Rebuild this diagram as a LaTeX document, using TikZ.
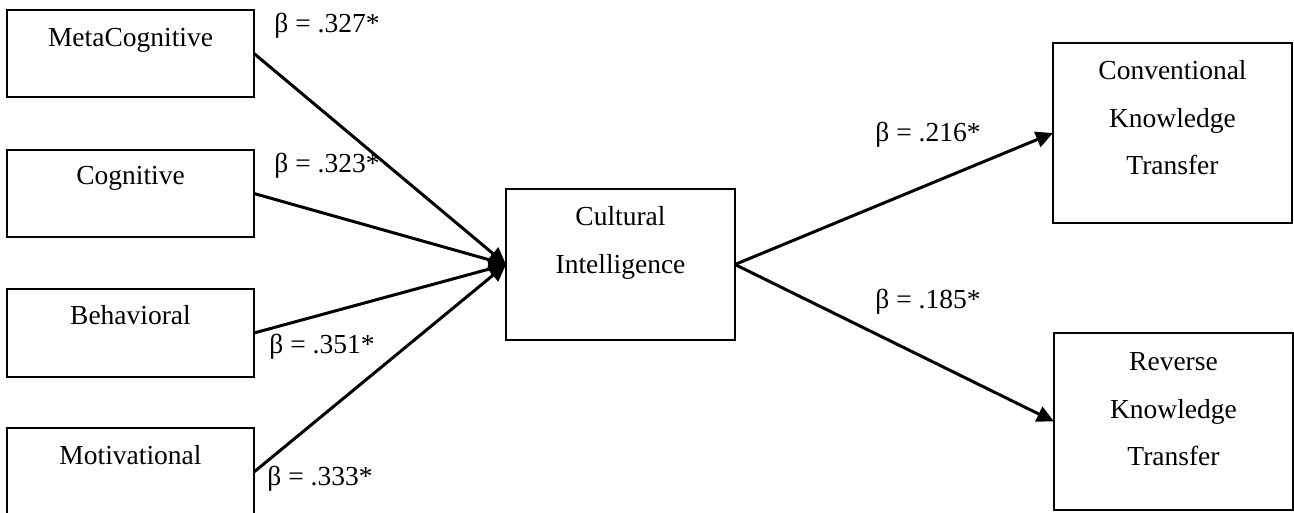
\documentclass[tikz,border=0pt]{standalone}
\usepackage{fontspec}
\setmainfont{Liberation Serif}
\usetikzlibrary{arrows.meta,calc}
\begin{document}
\begin{tikzpicture}[x=0.5pt,y=-0.5pt,
  box/.style={draw,line width=1pt,rectangle,inner sep=0pt,outer sep=0pt},
  txt/.style={inner sep=0pt,anchor=base,font=\fontsize{13.75pt}{16pt}\selectfont},
  coef/.style={inner sep=0pt,anchor=base west,font=\fontsize{13.75pt}{16pt}\selectfont},
  path/.style={line width=1.5pt,-{Triangle[length=8.5pt,width=8pt]}}
]
\useasboundingbox (0,0) rectangle (1294,513);
% boxes
\node[box,minimum width=123.5pt,minimum height=43.5pt] (meta) at (130.5,53.5) {};
\node[box,minimum width=123.5pt,minimum height=43.5pt] (cog) at (130.5,193.5) {};
\node[box,minimum width=123.5pt,minimum height=44pt] (beh) at (130.5,333) {};
\node[box,minimum width=123.5pt,minimum height=44pt] (mot) at (130.5,472) {};
\node[box,minimum width=114.5pt,minimum height=75.5pt] (cult) at (620.5,264.5) {};
\node[box,minimum width=119.5pt,minimum height=90pt] (conv) at (1172.5,133) {};
\node[box,minimum width=119.5pt,minimum height=88.5pt] (rev) at (1173.5,421.5) {};
% texts
\node[txt] (metaT) at ($(meta.north)+(0,37)$) {MetaCognitive};
\node[txt] (cogT) at ($(cog.north)+(0,35)$) {Cognitive};
\node[txt] (behT) at ($(beh.north)+(0,35)$) {Behavioral};
\node[txt] (motT) at ($(mot.north)+(0,36)$) {Motivational};
\node[txt] (cultA) at ($(cult.north)+(0,37)$) {Cultural};
\node[txt] (cultB) at ($(cult.north)+(0,84)$) {Intelligence};
\node[txt] (convA) at ($(conv.north)+(0,37)$) {Conventional};
\node[txt] (convB) at ($(conv.north)+(0,84.5)$) {Knowledge};
\node[txt] (convC) at ($(conv.north)+(0,132)$) {Transfer};
\node[txt] (revA) at ($(rev.north)+(0,37)$) {Reverse};
\node[txt] (revB) at ($(rev.north)+(0,85)$) {Knowledge};
\node[txt] (revC) at ($(rev.north)+(0,132)$) {Transfer};
% connectors
\draw[path] (meta.east) -- (cult.west);
\draw[path] (cog.east) -- (cult.west);
\draw[path] (beh.east) -- (cult.west);
\draw[path] (mot.east) -- (cult.west);
\draw[path] (cult.east) -- (conv.west);
\draw[path] (cult.east) -- (rev.west);
% coefficients
\node[coef] (b1) at (274,33) {β = .327*};
\node[coef] (b2) at (274,173) {β = .323*};
\node[coef] (b3) at (269,353) {β = .351*};
\node[coef] (b4) at (267,485) {β = .333*};
\node[coef] (b5) at (875,142) {β = .216*};
\node[coef] (b6) at (875,308) {β = .185*};
\end{tikzpicture}
\end{document}
